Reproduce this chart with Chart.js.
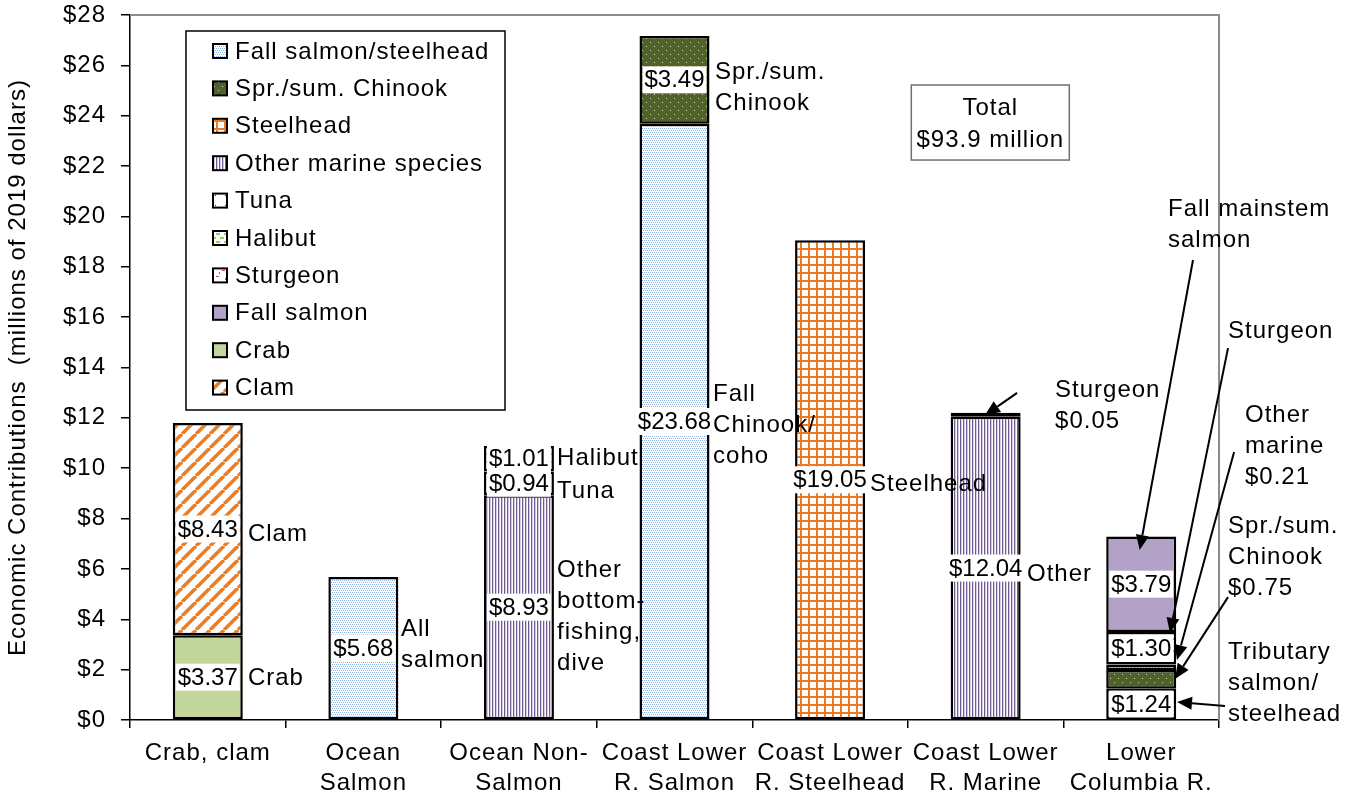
<!DOCTYPE html>
<html>
<head>
<meta charset="utf-8">
<script src="https://cdn.jsdelivr.net/npm/chart.js@4.4.1/dist/chart.umd.min.js"></script>
<style>
  html, body { margin: 0; padding: 0; background: #fff; overflow: hidden; }
</style>
</head>
<body>
<canvas id="chart" width="1356" height="800"></canvas>
<script>
// ===== Data (millions of 2019 dollars) =====
const categories = [
  'Crab, clam', ['Ocean', 'Salmon'], ['Ocean Non-', 'Salmon'], ['Coast Lower', 'R. Salmon'],
  ['Coast Lower', 'R. Steelhead'], ['Coast Lower', 'R. Marine'], ['Lower', 'Columbia R.']
];
const fallSalmonSteelhead = [null, 5.68, null, 23.68, null, null, 1.24];
const sprSumChinook       = [null, null, null, 3.49, null, null, 0.75];
const steelhead           = [null, null, null, null, 19.05, null, null];
const otherMarine         = [null, null, 8.93, null, null, 12.04, 0.21];
const tuna                = [null, null, 0.94, null, null, null, null];
const halibut             = [null, null, 1.01, null, null, null, null];
const sturgeon            = [null, null, null, null, null, 0.05, 1.30];
const fallSalmon          = [null, null, null, null, null, null, 3.79];
const crab                = [3.37, null, null, null, null, null, null];
const clam                = [8.43, null, null, null, null, null, null];
const yTicks = [0, 2, 4, 6, 8, 10, 12, 14, 16, 18, 20, 22, 24, 26, 28];
const totalText = ['Total', '$93.9 million'];

const FAMILY = '"Liberation Sans", Arial, sans-serif';
const FONT = '24px ' + FAMILY;

// ===== Patterns =====
function pattern(w, h, draw) {
  const c = document.createElement('canvas');
  c.width = w; c.height = h;
  const g = c.getContext('2d');
  g.fillStyle = '#fff';
  g.fillRect(0, 0, w, h);
  draw(g);
  return document.getElementById('chart').getContext('2d').createPattern(c, 'repeat');
}
const fills = {
  fss: pattern(4, 4, g => {
    g.fillStyle = '#8eb3e3';
    [[0, 0], [2, 0], [1, 2], [3, 2]].forEach(p => g.fillRect(p[0], p[1], 1, 1));
  }),
  spr: pattern(8, 8, g => {
    g.fillStyle = '#4f6228'; g.fillRect(0, 0, 8, 8);
    g.fillStyle = '#d6dcc8'; g.fillRect(2, 2, 1, 1); g.fillRect(6, 6, 1, 1);
  }),
  steel: pattern(8, 8, g => {
    g.fillStyle = '#ec7a22'; g.fillRect(0, 0, 8, 2); g.fillRect(0, 0, 2, 8);
  }),
  marine: pattern(3, 1, g => {
    g.fillStyle = '#6f5b8f'; g.fillRect(0, 0, 1, 1);
    g.fillStyle = '#d4cce2'; g.fillRect(1, 0, 1, 1);
  }),
  tuna: pattern(10, 10, g => {
    g.fillStyle = '#333'; g.fillRect(5, 5, 1, 1);
  }),
  halibut: pattern(8, 8, g => {
    g.fillStyle = '#92d050'; g.fillRect(0, 1, 4, 2); g.fillRect(4, 5, 4, 2);
  }),
  sturgeon: pattern(12, 12, g => {
    g.fillStyle = '#c0504d';
    g.fillRect(0, 0, 3, 1); g.fillRect(6, 6, 3, 1); g.fillRect(9, 2, 1, 2); g.fillRect(3, 8, 1, 2);
  }),
  fall: '#b3a2c7',
  crab: '#c3d69b',
  clam: pattern(14, 14, g => {
    g.strokeStyle = '#ee7d22'; g.lineWidth = 3.5;
    for (let k = -1; k <= 1; k++) {
      g.beginPath(); g.moveTo(k * 14, 14); g.lineTo(k * 14 + 14, 0); g.stroke();
    }
  })
};

function ds(label, data, bg) {
  return { label, data, backgroundColor: bg, borderColor: '#000', borderWidth: 2.5, borderSkipped: false,
           barPercentage: 0.45, categoryPercentage: 1 };
}
const datasets = [
  ds('Fall salmon/steelhead', fallSalmonSteelhead, fills.fss),
  ds('Spr./sum. Chinook', sprSumChinook, fills.spr),
  ds('Steelhead', steelhead, fills.steel),
  ds('Other marine species', otherMarine, fills.marine),
  ds('Tuna', tuna, fills.tuna),
  ds('Halibut', halibut, fills.halibut),
  Object.assign(ds('Sturgeon', sturgeon, fills.sturgeon), { minBarLength: 4 }),
  ds('Fall salmon', fallSalmon, fills.fall),
  ds('Crab', crab, fills.crab),
  ds('Clam', clam, fills.clam)
];

// ===== Text notes beside bars (x in category units, y in $ millions) =====
const notes = [
  { x: 0.258, y: 7.43, lines: ['Clam'] },
  { x: 0.258, y: 1.71, lines: ['Crab'] },
  { x: 1.242, y: 3.02, lines: ['All', 'salmon'] },
  { x: 2.245, y: 10.44, lines: ['Halibut'] },
  { x: 2.245, y: 9.13, lines: ['Tuna'] },
  { x: 2.245, y: 4.15, lines: ['Other', 'bottom-', 'fishing,', 'dive'] },
  { x: 3.26, y: 25.14, lines: ['Spr./sum.', 'Chinook'] },
  { x: 3.248, y: 11.76, lines: ['Fall', 'Chinook/', 'coho'] },
  { x: 4.257, y: 9.41, lines: ['Steelhead'] },
  { x: 5.266, y: 5.84, lines: ['Other'] },
  { x: 5.446, y: 12.53, lines: ['Sturgeon', '$0.05'] },
  { x: 6.172, y: 19.72, lines: ['Fall mainstem', 'salmon'] },
  { x: 6.558, y: 15.49, lines: ['Sturgeon'] },
  { x: 6.667, y: 10.92, lines: ['Other', 'marine', '$0.21'] },
  { x: 6.558, y: 6.51, lines: ['Spr./sum.', 'Chinook', '$0.75'] },
  { x: 6.558, y: 1.51, lines: ['Tributary', 'salmon/', 'steelhead'] }
];
const arrows = [
  { from: [5.202, 12.99], to: [4.996, 12.11] },
  { from: [6.333, 18.27], to: [5.99, 6.75] },
  { from: [6.558, 14.77], to: [6.185, 3.46] },
  { from: [6.597, 10.64], to: [6.23, 2.38] },
  { from: [6.558, 4.88], to: [6.217, 1.63] },
  { from: [6.539, 0.56], to: [6.23, 0.71] }
];

function drawArrow(ctx, x1, y1, x2, y2) {
  const ang = Math.atan2(y2 - y1, x2 - x1), L = 15, W = 6.5;
  const bx = x2 - L * Math.cos(ang), by = y2 - L * Math.sin(ang);
  ctx.beginPath(); ctx.moveTo(x1, y1); ctx.lineTo(bx, by); ctx.stroke();
  ctx.beginPath();
  ctx.moveTo(x2, y2);
  ctx.lineTo(bx + W * Math.sin(ang), by - W * Math.cos(ang));
  ctx.lineTo(bx - W * Math.sin(ang), by + W * Math.cos(ang));
  ctx.closePath(); ctx.fill();
}

// Excel-like wider letter spacing for all axis text
const spacing = {
  id: 'spacing',
  beforeLayout(chart) { chart.ctx.letterSpacing = '1px'; },
  beforeDraw(chart) { chart.ctx.letterSpacing = '1px'; }
};

const extras = {
  id: 'extras',
  afterDatasetsDraw(chart) {
    const ctx = chart.ctx, a = chart.chartArea, xs = chart.scales.x, ys = chart.scales.y;
    ctx.save();

    // gray frame top / right
    ctx.strokeStyle = '#8c8c8c'; ctx.lineWidth = 2;
    ctx.beginPath(); ctx.moveTo(a.left, a.top); ctx.lineTo(a.right, a.top); ctx.lineTo(a.right, a.bottom); ctx.stroke();

    // value labels in white boxes
    ctx.letterSpacing = '0px';
    ctx.font = FONT; ctx.textAlign = 'center'; ctx.textBaseline = 'middle';
    chart.data.datasets.forEach((d, di) => {
      chart.getDatasetMeta(di).data.forEach((bar, i) => {
        const v = d.data[i];
        if (v == null || v < 0.9) return;
        const t = '$' + v.toFixed(2);
        const cy = (bar.y + bar.base) / 2;
        const w = ctx.measureText(t).width + 4;
        ctx.fillStyle = '#fff'; ctx.fillRect(bar.x - w / 2, cy - 13.5, w, 27);
        ctx.fillStyle = '#000'; ctx.fillText(t, bar.x, cy + 1);
      });
    });

    // notes
    ctx.letterSpacing = '1px';
    ctx.textAlign = 'left';
    const lh = 31;
    notes.forEach(n => {
      const x = xs.getPixelForValue(n.x), y = ys.getPixelForValue(n.y);
      const y0 = y - (n.lines.length - 1) * lh / 2;
      n.lines.forEach((s, k) => ctx.fillText(s, x, y0 + k * lh + 1));
    });

    // arrows
    ctx.strokeStyle = '#000'; ctx.fillStyle = '#000'; ctx.lineWidth = 2;
    arrows.forEach(r => drawArrow(ctx,
      xs.getPixelForValue(r.from[0]), ys.getPixelForValue(r.from[1]),
      xs.getPixelForValue(r.to[0]), ys.getPixelForValue(r.to[1])));

    // total box
    const cx = xs.getPixelForValue(5.03), tTop = ys.getPixelForValue(25.22), tBot = ys.getPixelForValue(22.24);
    ctx.strokeStyle = '#707070'; ctx.lineWidth = 1.5;
    ctx.strokeRect(cx - 79, tTop, 158, tBot - tTop);
    ctx.textAlign = 'center';
    ctx.fillText(totalText[0], cx, tTop + 23);
    ctx.fillText(totalText[1], cx, tTop + 55);

    // legend box
    const lx = a.left + 56, ly = a.top + 16, lw = 319, lhgt = 379;
    ctx.fillStyle = '#fff'; ctx.fillRect(lx, ly, lw, lhgt);
    ctx.strokeStyle = '#000'; ctx.lineWidth = 1.5;
    ctx.strokeRect(lx, ly, lw, lhgt);
    ctx.textAlign = 'left';
    chart.data.datasets.forEach((d, di) => {
      const y = ly + 20 + di * 37.4;
      ctx.fillStyle = d.backgroundColor;
      ctx.fillRect(lx + 27, y - 7, 14, 14);
      ctx.strokeStyle = '#000'; ctx.lineWidth = 2;
      ctx.strokeRect(lx + 27, y - 7, 14, 14);
      ctx.fillStyle = '#000';
      ctx.fillText(d.label, lx + 49, y + 1);
    });
    ctx.restore();
  }
};

new Chart(document.getElementById('chart'), {
  type: 'bar',
  data: { labels: categories, datasets },
  plugins: [spacing, extras],
  options: {
    responsive: false,
    devicePixelRatio: 1,
    animation: false,
    layout: { padding: { left: 0, right: 137, top: 15, bottom: 0 } },
    plugins: { legend: { display: false }, tooltip: { enabled: false } },
    scales: {
      x: {
        stacked: true,
        offset: true,
        grid: { offset: true, drawOnChartArea: false, tickLength: 8, color: '#000', lineWidth: 1.5 },
        border: { color: '#000', width: 1.5 },
        ticks: { color: '#000', font: { size: 24, family: FAMILY, lineHeight: 1.25 }, padding: 10, maxRotation: 0, autoSkip: false },
        afterFit: s => { s.height = 80; }
      },
      y: {
        stacked: true,
        min: 0, max: 28,
        afterBuildTicks: s => { s.ticks = yTicks.map(v => ({ value: v })); },
        ticks: { color: '#000', font: { size: 24, family: FAMILY }, padding: 15, callback: v => '$' + v },
        grid: { drawOnChartArea: false, tickLength: 9, color: '#000', lineWidth: 1.5 },
        border: { color: '#000', width: 1.5 },
        title: { display: true, text: 'Economic Contributions  (millions of 2019 dollars)', color: '#000',
                 font: { size: 24, family: FAMILY }, padding: { top: 4, bottom: 0 } },
        afterFit: s => { s.width = 130; s.paddingTop = 0; s.paddingBottom = 0; }
      }
    }
  }
});
</script>
</body>
</html>
